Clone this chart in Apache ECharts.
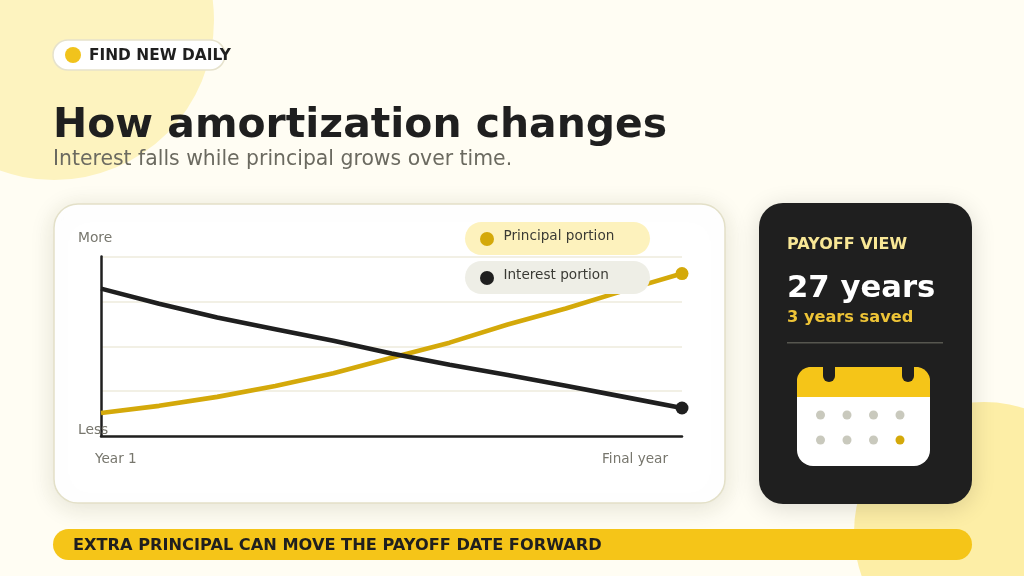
<!DOCTYPE html>
<html><head><meta charset="utf-8">
<style>html,body{margin:0;padding:0;background:#fffdf3}#c{width:1024px;height:576px}</style>
<script src="https://cdn.jsdelivr.net/npm/echarts@6/dist/echarts.min.js"></script>
</head><body><div id="c"></div>
<script>
const periods = ['1','2','3','4','5','6','7','8','9','10','11'];
const principal = [12.8,16.8,21.8,27.9,35,43.6,52,62.1,71,81,90.5];
const interest = [82.1,73.7,66,59.5,53,46,39.7,34,28,21.8,15.6];
const xEnds = ['Year 1','Final year'];
const yEnds = ['More','Less'];
const legendNames = ['Principal portion','Interest portion'];
const GOLD='#d4a90a', INK='#1f1f1f', FONT='"DejaVu Sans"';
const dots=[[820.5,415],[847,415],[873.5,415],[900,415],[820.5,440],[847,440],[873.5,440]];
function txt(x,y,t,size,weight,fill,z,align){return {type:'text',z:z||1,style:{x,y:y+2,text:t,fontFamily:FONT,fontSize:size,fontWeight:weight||'normal',fill,textAlign:align||'left',textVerticalAlign:'middle'}};}
function rect(x,y,w,h,r,fill,z,extra){return {type:'rect',z:z||-1,shape:{x,y,width:w,height:h,r},style:Object.assign({fill},extra||{})};}
function circ(cx,cy,r,fill,z){return {type:'circle',z:z||1,shape:{cx,cy,r},style:{fill}};}
const g=[
 rect(0,0,1024,576,0,'#fffdf3',-10),
 circ(54,20,160,'#fdf3bf',-9),
 circ(984,532,130,'#fdeea6',-9),
 rect(53,40,172,30,15,'#ffffff',-1,{stroke:'#e6e2cc',lineWidth:1.5}),
 circ(73,55,8,'#f1c31c',1),
 txt(89,54,'FIND NEW DAILY',15.4,'bold',INK),
 txt(53,124.5,'How amortization changes',40.9,'bold',INK),
 txt(53,158,'Interest falls while principal grows over time.',20.4,'normal','#6b6a60'),
 rect(54,204,671,299,24,'#ffffff',-2,{stroke:'#e3e0c8',lineWidth:1.5,shadowBlur:24,shadowColor:'rgba(60,55,20,0.14)',shadowOffsetY:4}),
 txt(78,236,yEnds[0],13.8,'normal','#77766d'),
 txt(78,428,yEnds[1],13.8,'normal','#77766d',5),
 txt(95,457,xEnds[0],13.6,'normal','#77766d'),
 txt(668,457,xEnds[1],13.6,'normal','#77766d',1,'right'),
 rect(465,222,185,33,16.5,'#fdf2bd',10),
 circ(487,239,7,GOLD,11),
 txt(503.5,234.5,legendNames[0],13.6,'normal','#3a3a34',11),
 rect(465,261,185,33,16.5,'#eeeee6',10),
 circ(487,278,7,INK,11),
 txt(503.5,273.5,legendNames[1],13.6,'normal','#3a3a34',11),
 rect(759,203,213,301,24,INK,-2,{shadowBlur:24,shadowColor:'rgba(0,0,0,0.14)',shadowOffsetY:4}),
 txt(787,242.5,'PAYOFF VIEW',16,'bold','#f8e796'),
 txt(787,287.5,'27 years',30.7,'bold','#ffffff'),
 txt(787,316,'3 years saved',16.2,'bold','#eec437'),
 rect(787,342,156,1.5,0,'#56564f',1),
 rect(797,367,133,99,16,'#ffffff',1),
 rect(797,367,133,30,[14,14,0,0],'#f5c518',2),
 rect(823,367,12,15,[0,0,6,6],INK,3),
 rect(902,367,12,15,[0,0,6,6],INK,3),
 ...dots.map(d=>circ(d[0],d[1],4.5,'#c9c9bd',3)),
 circ(900,440,4.5,GOLD,3),
 rect(53,529,919,31,15.5,'#f5c518',1),
 txt(73,544,'EXTRA PRINCIPAL CAN MOVE THE PAYOFF DATE FORWARD',16.2,'bold',INK,2)
];
function mk(name,data,color){return {name,type:'line',data,z:4,showSymbol:true,symbol:'circle',symbolSize:(v,p)=>p.dataIndex===data.length-1?13:0,lineStyle:{color,width:4.6},itemStyle:{color},animation:false,silent:true};}
const chart=echarts.init(document.getElementById('c'),null,{renderer:'canvas'});
chart.setOption({
 animation:false,
 grid:{left:101,right:342,top:256.5,bottom:140,containLabel:false},
 xAxis:{type:'category',data:periods,boundaryGap:false,axisLine:{onZero:false,lineStyle:{color:INK,width:2.5}},axisTick:{show:false},axisLabel:{show:false},splitLine:{show:false}},
 yAxis:{type:'value',min:0,max:100,interval:25,axisLine:{show:true,lineStyle:{color:INK,width:2.5}},axisTick:{show:false},axisLabel:{show:false},splitLine:{show:true,lineStyle:{color:'#eeebdc',width:1.5}}},
 series:[mk(legendNames[0],principal,GOLD),mk(legendNames[1],interest,INK)],
 graphic:{elements:g}
});
</script></body></html>
